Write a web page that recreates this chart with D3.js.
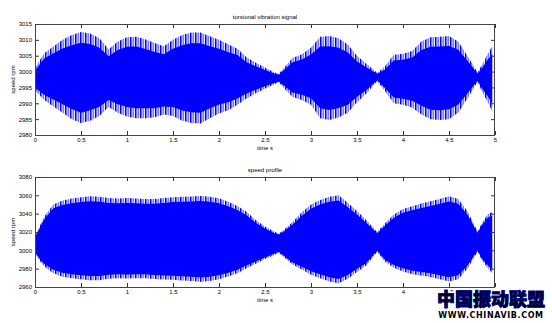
<!DOCTYPE html>
<html>
<head>
<meta charset="utf-8">
<script src="https://cdn.jsdelivr.net/npm/d3@7"></script>
<style>
  html, body { margin: 0; padding: 0; background: #fff; }
  svg { display: block; }
  text { font-family: "Liberation Sans", Arial, sans-serif; fill: #000; }
</style>
</head>
<body>
<svg id="fig" width="552" height="323"></svg>
<script>
// Sample instants (s) at which the signal envelopes were taken
const time = [0, 0.05, 0.1, 0.2, 0.3, 0.4, 0.5, 0.6, 0.7, 0.8, 0.9, 1.0, 1.1, 1.2, 1.3, 1.4, 1.5, 1.6, 1.7, 1.8, 1.9, 2.0,
  2.1, 2.2, 2.3, 2.4, 2.5, 2.6, 2.65, 2.7, 2.8, 2.9, 3.0, 3.1, 3.2, 3.3, 3.4, 3.5, 3.6, 3.72, 3.8, 3.9, 4.0, 4.1, 4.2,
  4.3, 4.4, 4.5, 4.6, 4.7, 4.81, 4.87, 4.92, 4.97];

// Torsional vibration signal: peak envelope (spike tips) and dense core envelope, rpm
const torsionPeakHigh = [3001, 3003.5, 3005.8, 3007.9, 3010, 3011.5, 3012.5, 3012, 3010.5, 3007, 3009.5, 3010.8, 3011,
  3010.2, 3009, 3008, 3010, 3011.5, 3012.3, 3012.3, 3011.1, 3010, 3008.6, 3007.2, 3004.5, 3002.8, 3001.3, 2999.8, 2999.3,
  3001, 3004.3, 3005.5, 3007.5, 3011, 3011.2, 3010.5, 3008.5, 3005, 3002.5, 2999.6, 3001.5, 3005.3, 3005.6, 3006.5,
  3009.5, 3010.8, 3011, 3011.2, 3009.5, 3005, 2999.8, 3002.7, 3005.5, 3008];
const torsionPeakLow = [2994, 2992.5, 2991, 2989, 2987, 2985, 2983.8, 2984.5, 2986, 2988.8, 2987, 2985.8, 2985.3, 2985.3,
  2985.6, 2986.5, 2986, 2984.5, 2983.8, 2983.6, 2985.3, 2986.8, 2987.8, 2989.5, 2991.5, 2993.2, 2994.6, 2996, 2996.6,
  2995, 2992, 2991, 2989.5, 2985.3, 2984.7, 2985.5, 2987, 2990.3, 2993, 2997, 2994, 2990, 2989.5, 2988.7, 2986.5, 2985,
  2984.7, 2985, 2987, 2991.5, 2996.8, 2993, 2990.5, 2987.5];
const torsionCoreHigh = [3000.2, 3002.2, 3004.1, 3005.8, 3007.3, 3008.3, 3009.1, 3008.7, 3007.5, 3004.8, 3006.8, 3007.8,
  3007.9, 3007.1, 3006.2, 3005.5, 3007.2, 3008.3, 3008.9, 3008.9, 3008, 3007.2, 3006.1, 3005.2, 3002.9, 3001.7, 3000.5,
  2999.4, 2999, 3000.3, 3002.9, 3003.8, 3005.4, 3007.9, 3008, 3007.5, 3006, 3003.2, 3001.4, 2999.3, 3000.6, 3003.5,
  3003.7, 3004.4, 3006.8, 3007.8, 3007.9, 3008.1, 3006.9, 3003.4, 2999.4, 3001.5, 3003.7, 3005.5];
const torsionCoreLow = [2994.8, 2993.8, 2992.7, 2991.2, 2989.7, 2988.2, 2987, 2987.8, 2988.9, 2991, 2989.7, 2988.8,
  2988.4, 2988.4, 2988.4, 2989, 2988.8, 2987.7, 2987.2, 2987, 2988.4, 2989.6, 2990.3, 2991.5, 2993.1, 2994.3, 2995.4,
  2996.4, 2996.9, 2995.7, 2993.4, 2992.7, 2991.6, 2988.4, 2987.9, 2988.5, 2989.5, 2992.1, 2994.1, 2997.3, 2994.9,
  2991.8, 2991.4, 2990.8, 2989.2, 2988, 2987.8, 2988.1, 2989.6, 2993.1, 2997.1, 2994.2, 2992.3, 2990];

// Speed profile: peak envelope and dense core envelope, rpm
const speedPeakHigh = [3015, 3026, 3037, 3050, 3054.5, 3056.5, 3058, 3059, 3058.5, 3057, 3056.5, 3057, 3056.5, 3056,
  3056, 3057, 3058, 3058.5, 3058.8, 3059.3, 3058.5, 3056.8, 3053, 3048.5, 3042, 3033, 3026, 3020.5, 3018.5, 3022, 3031,
  3041.5, 3050, 3055, 3058.5, 3060, 3052, 3043, 3033, 3020, 3029, 3039, 3045, 3048, 3051, 3053.5, 3056, 3059, 3056,
  3043, 3020.5, 3032, 3039, 3042];
const speedPeakLow = [2997, 2989, 2982.5, 2975, 2971.3, 2969.5, 2968.4, 2967.5, 2967.5, 2969, 2969.5, 2969.2, 2969.5,
  2969.5, 2968.6, 2968.2, 2967.8, 2967.2, 2966.5, 2965.8, 2966.5, 2968.5, 2971.5, 2975, 2980.4, 2985.5, 2990.5, 2995,
  2997.5, 2993, 2984.5, 2979, 2973.5, 2969.5, 2966, 2964, 2969, 2976.5, 2983.5, 2998.5, 2988, 2981, 2977, 2974, 2972.5,
  2971, 2968.5, 2966, 2968.5, 2980, 2998.5, 2987, 2981, 2975];
const speedCoreHigh = [3014, 3024, 3034, 3046, 3049.5, 3051.3, 3052.6, 3053.5, 3053, 3051.7, 3051.3, 3051.7, 3051.3,
  3050.8, 3050.8, 3051.7, 3052.6, 3053.1, 3053.3, 3053.7, 3053, 3051.4, 3048, 3044, 3038.3, 3030.2, 3023.9, 3019,
  3017.3, 3020.3, 3028.2, 3037.8, 3045.4, 3050.1, 3053, 3054.3, 3047.1, 3039, 3030, 3018.7, 3026.5, 3035.5, 3041,
  3043.6, 3046.3, 3048.5, 3050.7, 3053.4, 3050.8, 3039.2, 3019.2, 3029.3, 3035.5, 3038];
const speedCoreLow = [2998, 2990.8, 2985.2, 2978.8, 2975.5, 2973.9, 2972.9, 2972.1, 2972.1, 2973.4, 2973.8, 2973.6,
  2973.8, 2973.8, 2973, 2972.6, 2972.3, 2971.8, 2971.1, 2970.5, 2971.1, 2972.9, 2975.6, 2978.7, 2983.5, 2987.9, 2992.3,
  2996.3, 2998.5, 2994.5, 2986.8, 2982.1, 2977.3, 2973.8, 2970.6, 2968.8, 2973.2, 2979.8, 2986, 2999.6, 2990, 2983.9,
  2980.4, 2977.7, 2976.4, 2975.1, 2972.9, 2970.7, 2972.9, 2983.2, 2999.6, 2989.3, 2983.9, 2978.4];

// Axis ticks
const timeTicks = [0, 0.5, 1, 1.5, 2, 2.5, 3, 3.5, 4, 4.5, 5];
const torsionTicks = [2980, 2985, 2990, 2995, 3000, 3005, 3010, 3015];
const speedTicks = [2960, 2980, 3000, 3020, 3040, 3060, 3080];

const panels = [
  { title: "torsional vibration signal", top: 24, bottom: 135, domain: [2980, 3015], ticks: torsionTicks,
    peakHigh: torsionPeakHigh, peakLow: torsionPeakLow, coreHigh: torsionCoreHigh, coreLow: torsionCoreLow },
  { title: "speed profile", top: 177, bottom: 287, domain: [2960, 3080], ticks: speedTicks,
    peakHigh: speedPeakHigh, peakLow: speedPeakLow, coreHigh: speedCoreHigh, coreLow: speedCoreLow }
];

const svg = d3.select("#fig");
const left = 35, right = 495;
const fontSize = 6;

// Vertical stripe texture for the oscillation peaks along the envelope
const defs = svg.append("defs");
const pat = defs.append("pattern")
  .attr("id", "spikes").attr("patternUnits", "userSpaceOnUse")
  .attr("width", 5).attr("height", 10);
pat.append("rect").attr("x", 0).attr("y", 0).attr("width", 5).attr("height", 10).attr("fill", "#e6e6ff");
pat.append("rect").attr("x", 0).attr("y", 0).attr("width", 1.5).attr("height", 10).attr("fill", "#0000ff");
pat.append("rect").attr("x", 2.5).attr("y", 0).attr("width", 1.5).attr("height", 10).attr("fill", "#7a7aff");

const x = d3.scaleLinear().domain([0, 5]).range([left, right]);

panels.forEach((p, i) => {
  const y = d3.scaleLinear().domain(p.domain).range([p.bottom, p.top]);
  const g = svg.append("g");

  defs.append("clipPath").attr("id", "clip" + i)
    .append("rect").attr("x", left).attr("y", p.top).attr("width", right - left).attr("height", p.bottom - p.top);

  const plot = g.append("g").attr("clip-path", `url(#clip${i})`);
  const idx = d3.range(time.length);

  const peakArea = d3.area().x(k => x(time[k])).y0(k => y(p.peakLow[k])).y1(k => y(p.peakHigh[k]));
  const coreArea = d3.area().x(k => x(time[k])).y0(k => y(p.coreLow[k])).y1(k => y(p.coreHigh[k]));

  plot.append("path").attr("d", peakArea(idx)).attr("fill", "url(#spikes)");
  plot.append("path").attr("d", coreArea(idx)).attr("fill", "#0000ff");

  // Axes with inward ticks on all four sides
  const styleAxis = sel => {
    sel.select(".domain").remove();
    sel.selectAll(".tick line").attr("stroke", "#333");
    sel.selectAll("text").style("font-size", fontSize + "px")
      .style("font-family", '"Liberation Sans", Arial, sans-serif').attr("fill", "#000");
  };
  const fmtT = d3.format("~g");

  g.append("g").attr("transform", `translate(0,${p.bottom})`)
    .call(d3.axisBottom(x).tickValues(timeTicks).tickFormat(fmtT).tickSize(-4).tickPadding(3))
    .call(styleAxis);
  g.append("g").attr("transform", `translate(0,${p.top})`)
    .call(d3.axisTop(x).tickValues(timeTicks).tickFormat("").tickSize(-4))
    .call(styleAxis);
  g.append("g").attr("transform", `translate(${left},0)`)
    .call(d3.axisLeft(y).tickValues(p.ticks).tickFormat(d3.format("d")).tickSize(-4).tickPadding(3))
    .call(styleAxis);
  g.append("g").attr("transform", `translate(${right},0)`)
    .call(d3.axisRight(y).tickValues(p.ticks).tickFormat("").tickSize(-4))
    .call(styleAxis);

  g.append("rect").attr("x", left + 0.5).attr("y", p.top + 0.5)
    .attr("width", right - left - 1).attr("height", p.bottom - p.top)
    .attr("fill", "none").attr("stroke", "#444").attr("stroke-width", 1);

  g.append("text").attr("x", (left + right) / 2).attr("y", p.top - 5)
    .attr("text-anchor", "middle").style("font-size", fontSize + "px").text(p.title);
  g.append("text").attr("x", (left + right) / 2).attr("y", p.bottom + 15)
    .attr("text-anchor", "middle").style("font-size", fontSize + "px").text("time s");
  g.append("text")
    .attr("transform", `translate(15,${(p.top + p.bottom) / 2}) rotate(-90)`)
    .attr("text-anchor", "middle").style("font-size", fontSize + "px").text("speed rpm");
});

// Site mark in the lower right corner
const mark = svg.append("g");
mark.append("text").attr("x", 491).attr("y", 306).attr("text-anchor", "middle")
  .style("font-family", '"Noto Sans CJK SC", sans-serif').style("font-size", "18px").style("font-weight", "900")
  .attr("fill", "#1e1eff").attr("stroke", "#ffffff").attr("stroke-width", 4).attr("paint-order", "stroke")
  .text("中国振动联盟");
mark.append("text").attr("x", 491).attr("y", 306).attr("text-anchor", "middle")
  .style("font-family", '"Noto Sans CJK SC", sans-serif').style("font-size", "18px").style("font-weight", "900")
  .attr("fill", "none").attr("stroke", "#0000a0").attr("stroke-width", 0.8)
  .text("中国振动联盟");
mark.append("text").attr("x", 491).attr("y", 318).attr("text-anchor", "middle")
  .style("font-family", '"DejaVu Sans", sans-serif').style("font-size", "8px").style("font-weight", "bold")
  .style("letter-spacing", "0.6px")
  .attr("fill", "#ee1111").attr("stroke", "#ffffff").attr("stroke-width", 2).attr("paint-order", "stroke")
  .text("WWW.CHINAVIB.COM");
</script>
</body>
</html>
